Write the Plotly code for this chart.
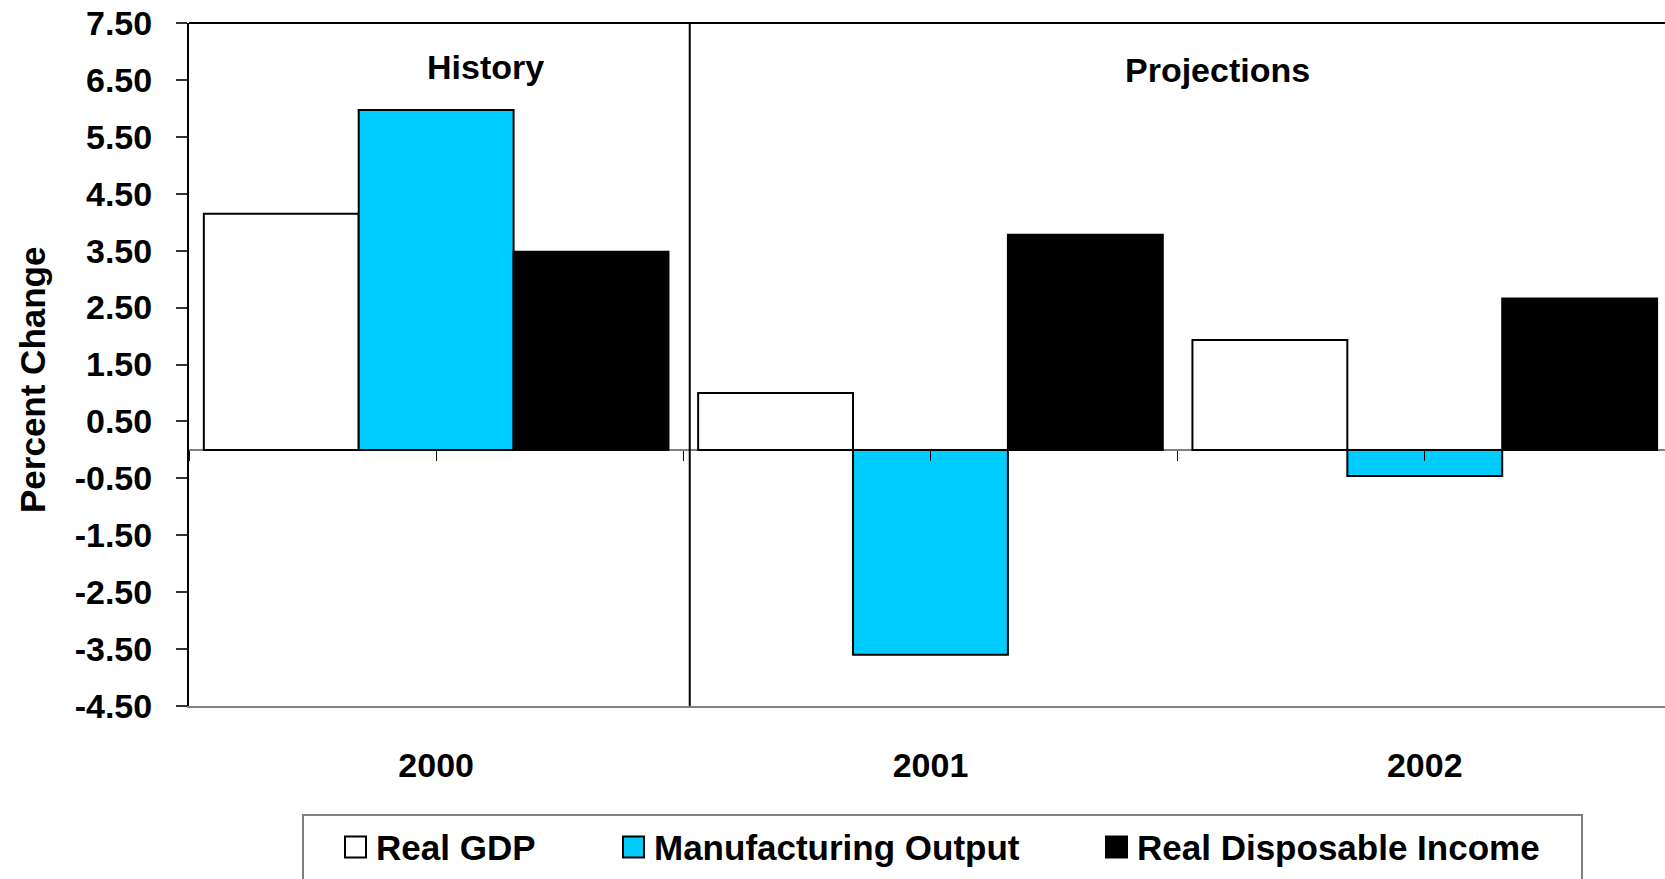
import plotly.graph_objects as go

# ---------------- data ----------------
years = ["2000", "2001", "2002"]
series_names = ["Real GDP", "Manufacturing Output", "Real Disposable Income"]
real_gdp = [4.15, 1.00, 1.93]
manufacturing_output = [5.97, -3.60, -0.46]
real_disposable_income = [3.48, 3.78, 2.66]
y_ticks = [7.5, 6.5, 5.5, 4.5, 3.5, 2.5, 1.5, 0.5, -0.5, -1.5, -2.5, -3.5, -4.5]
y_tick_labels = ["7.50", "6.50", "5.50", "4.50", "3.50", "2.50", "1.50", "0.50",
                 "-0.50", "-1.50", "-2.50", "-3.50", "-4.50"]
period_labels = ["History", "Projections"]
y_axis_title = "Percent Change"

# ---------------- style ----------------
W, H = 1665, 879
M_L, M_R, M_T, M_B = 189, 0, 23, 173
PLOT_W = W - M_L - M_R
PLOT_H = H - M_T - M_B
FONT = "Liberation Sans, Arial, sans-serif"
fills = ["#FFFFFF", "#00CCFF", "#000000"]
Y_RANGE = [-4.5, 7.5]
X_RANGE = [-0.5, 2.486]
DIVIDER_X = 0.513
period_pos = [(0.10, 6.73), (1.58, 6.68)]


def px_x(px):
    return (px - M_L) / PLOT_W


def px_y(py):
    return (H - M_B - py) / PLOT_H


values = [real_gdp, manufacturing_output, real_disposable_income]

fig = go.Figure()
for name, vals, col in zip(series_names, values, fills):
    fig.add_trace(go.Bar(
        x=years, y=vals, name=name,
        marker=dict(color=col, line=dict(color="black", width=2)),
        showlegend=False,
    ))

# invisible trace for the zero-line tick axis
fig.add_trace(go.Scatter(x=years, y=[0, 0, 0], xaxis="x2", yaxis="y",
                         mode="markers", marker=dict(opacity=0),
                         showlegend=False, hoverinfo="skip"))

fig.update_layout(
    width=W, height=H,
    margin=dict(l=M_L, r=M_R, t=M_T, b=M_B),
    paper_bgcolor="white", plot_bgcolor="white",
    barmode="group", bargap=0.06, bargroupgap=0,
    font=dict(family=FONT, size=34, color="black", weight="bold"),
    xaxis=dict(
        type="category", range=X_RANGE,
        showline=True, linecolor="#808080", linewidth=2,
        ticks="", showgrid=False, zeroline=False,
        tickfont=dict(family=FONT, size=34, color="black", weight="bold"),
        ticklabelstandoff=28,
    ),
    xaxis2=dict(
        type="category", range=X_RANGE, overlaying="x", matches="x",
        anchor="free", position=0.375,
        showline=False, showgrid=False, zeroline=False,
        ticks="outside", ticklen=10, tickwidth=1, tickcolor="black",
        tickmode="array", tickvals=[-0.5, 0, 0.5, 1, 1.5, 2, 2.5],
        showticklabels=False,
    ),
    yaxis=dict(
        range=Y_RANGE, tickmode="array", tickvals=y_ticks, ticktext=y_tick_labels,
        showline=True, linecolor="black", linewidth=2,
        ticks="outside", ticklen=11, tickwidth=1.5, tickcolor="#333333",
        showgrid=False, zeroline=True, zerolinecolor="#808080", zerolinewidth=2,
        tickfont=dict(family=FONT, size=34, color="black", weight="bold"),
        ticklabelstandoff=17,
    ),
)

shapes = []
# top border
shapes.append(dict(type="line", xref="paper", yref="paper", x0=0, x1=1, y0=1, y1=1,
                   line=dict(color="black", width=2)))
# history / projections divider
shapes.append(dict(type="line", xref="x", yref="y", x0=DIVIDER_X, x1=DIVIDER_X,
                   y0=Y_RANGE[0], y1=Y_RANGE[1], line=dict(color="black", width=2)))

# manual legend box
shapes.append(dict(type="rect", xref="paper", yref="paper",
                   x0=px_x(303), x1=px_x(1582), y0=px_y(900), y1=px_y(815),
                   line=dict(color="#7F7F7F", width=2), fillcolor="white", layer="below"))

annotations = []
legend_sq_px = [345, 623, 1106]
SQ = 21
LEG_CY = 847
for name, col, sx in zip(series_names, fills, legend_sq_px):
    shapes.append(dict(type="rect", xref="paper", yref="paper",
                       x0=px_x(sx), x1=px_x(sx + SQ),
                       y0=px_y(LEG_CY + SQ / 2), y1=px_y(LEG_CY - SQ / 2),
                       line=dict(color="black", width=2), fillcolor=col))
    annotations.append(dict(xref="paper", yref="paper", x=px_x(sx + SQ + 8), y=px_y(LEG_CY),
                            xanchor="left", yanchor="middle", showarrow=False,
                            text=name,
                            font=dict(family=FONT, size=35, color="black", weight="bold")))

for lab, (px_, py_) in zip(period_labels, period_pos):
    annotations.append(dict(xref="x", yref="y", x=px_, y=py_, text=lab, showarrow=False,
                            xanchor="center", yanchor="middle",
                            font=dict(family=FONT, size=34, color="black", weight="bold")))

annotations.append(dict(xref="paper", yref="paper", x=px_x(32), y=px_y(380),
                        text=y_axis_title, textangle=-90, showarrow=False,
                        xanchor="center", yanchor="middle",
                        font=dict(family=FONT, size=35, color="black", weight="bold")))

fig.update_layout(shapes=shapes, annotations=annotations)
fig.write_html("out.html")
